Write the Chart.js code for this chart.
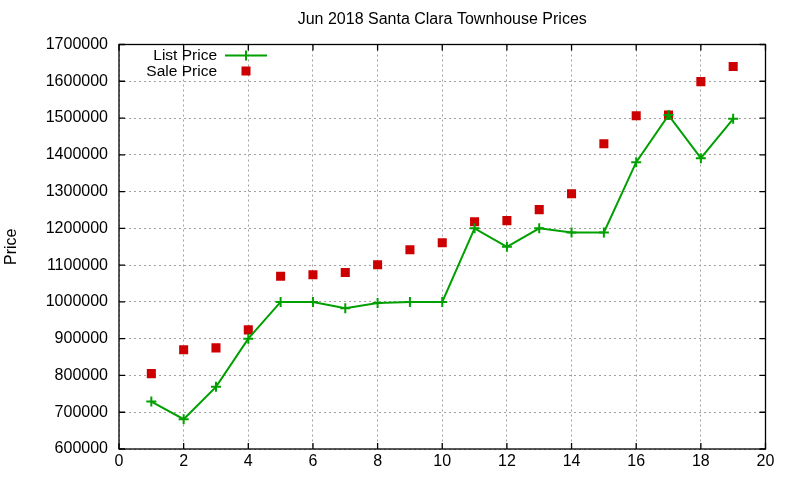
<!DOCTYPE html>
<html lang="en">
<head>
    <meta charset="UTF-8">
    <title>Jun 2018 Santa Clara Townhouse Prices</title>
    <script src="https://cdn.jsdelivr.net/npm/chart.js"></script>
    <style>
        html, body { margin: 0; padding: 0; background: #fff; }
        #chartContainer { width: 800px; height: 480px; }
    </style>
</head>
<body>

<div id="chartContainer">
    <canvas id="priceChart"></canvas>
</div>

<script type="text/javascript">
    // Chart data
    var chartTitle = 'Jun 2018 Santa Clara Townhouse Prices';
    var xValues = [1, 2, 3, 4, 5, 6, 7, 8, 9, 10, 11, 12, 13, 14, 15, 16, 17, 18, 19];
    var listPrice = [729000, 681000, 769000, 900000, 1000000, 1000000, 983000, 997000, 1000000, 1000000,
                     1200000, 1150000, 1200000, 1189000, 1189000, 1380000, 1508000, 1391000, 1498000];
    var salePrice = [805000, 870000, 875000, 924000, 1070000, 1074000, 1080000, 1101000, 1142000, 1161000,
                     1218000, 1221000, 1251000, 1294000, 1430000, 1506000, 1508000, 1599000, 1640000];

    var green = 'rgb(0,160,0)';
    var red = 'rgb(204,0,0)';
    var fontFamily = '"Liberation Sans", Arial, sans-serif';

    // gnuplot look: black frame with inward ticks, centred title, key at top left
    var gnuplotFrame = {
        id: 'gnuplotFrame',
        afterDraw: function(chart) {
            const ctx = chart.ctx;
            const a = chart.chartArea;
            const xs = chart.scales.x, ys = chart.scales.y;
            const tl = 6;
            ctx.save();
            ctx.strokeStyle = '#000';
            ctx.lineWidth = 1.3;
            ctx.strokeRect(a.left, a.top, a.right - a.left, a.bottom - a.top);
            ctx.beginPath();
            xs.ticks.forEach(t => {
                const px = xs.getPixelForValue(t.value);
                ctx.moveTo(px, a.bottom); ctx.lineTo(px, a.bottom - tl);
                ctx.moveTo(px, a.top); ctx.lineTo(px, a.top + tl);
            });
            ys.ticks.forEach(t => {
                const py = ys.getPixelForValue(t.value);
                ctx.moveTo(a.left, py); ctx.lineTo(a.left + tl, py);
                ctx.moveTo(a.right, py); ctx.lineTo(a.right - tl, py);
            });
            ctx.stroke();

            // title
            ctx.fillStyle = '#000';
            ctx.font = '16px ' + fontFamily;
            ctx.textAlign = 'center';
            ctx.textBaseline = 'middle';
            ctx.fillText(chartTitle, (a.left + a.right) / 2, 20);

            // key
            const ds = chart.data.datasets;
            ctx.font = '15.5px ' + fontFamily;
            ctx.textAlign = 'right';
            ctx.fillText(ds[0].label, a.left + 98, a.top + 11);
            ctx.fillText(ds[1].label, a.left + 98, a.top + 27);
            const sx = a.left + 106, ex = a.left + 148, mx = (sx + ex) / 2;
            let ky = a.top + 11;
            ctx.strokeStyle = green;
            ctx.lineWidth = 2;
            ctx.beginPath();
            ctx.moveTo(sx, ky); ctx.lineTo(ex, ky);
            ctx.moveTo(mx, ky - 5); ctx.lineTo(mx, ky + 5);
            ctx.stroke();
            ky = a.top + 26.5;
            ctx.fillStyle = red;
            ctx.fillRect(mx - 4.5, ky - 4.5, 9, 9);
            ctx.restore();
        }
    };

    const ctx = document.getElementById('priceChart').getContext('2d');
    new Chart(ctx, {
        type: 'line',
        data: {
            datasets: [{
                label: 'List Price',
                data: xValues.map((x, i) => ({ x: x, y: listPrice[i] })),
                borderColor: green,
                backgroundColor: green,
                borderWidth: 2,
                pointStyle: 'cross',
                pointRadius: 5,
                pointBorderWidth: 2,
                tension: 0
            }, {
                label: 'Sale Price',
                data: xValues.map((x, i) => ({ x: x, y: salePrice[i] })),
                showLine: false,
                borderColor: red,
                backgroundColor: red,
                pointStyle: 'rect',
                pointRadius: 6.4,
                pointBorderWidth: 0
            }]
        },
        options: {
            responsive: true,
            maintainAspectRatio: false,
            animation: false,
            layout: { padding: { top: 44.5, right: 34.5, left: 0, bottom: 0 } },
            plugins: {
                legend: { display: false },
                title: { display: false },
                tooltip: { enabled: false }
            },
            scales: {
                x: {
                    type: 'linear',
                    min: 0,
                    max: 20,
                    ticks: { stepSize: 2, color: '#000', padding: 3, font: { family: fontFamily, size: 16 } },
                    grid: { color: '#a0a0a0', lineWidth: 1, drawTicks: false },
                    border: { display: false, dash: [2, 3] },
                    afterFit: function(scale) { scale.height = 31; }
                },
                y: {
                    min: 600000,
                    max: 1700000,
                    ticks: {
                        stepSize: 100000,
                        color: '#000',
                        padding: 11,
                        font: { family: fontFamily, size: 16 },
                        callback: function(v) { return String(v); }
                    },
                    grid: { color: '#a0a0a0', lineWidth: 1, drawTicks: false },
                    border: { display: false, dash: [2, 3] },
                    title: {
                        display: true,
                        text: 'Price',
                        color: '#000',
                        font: { family: fontFamily, size: 16 },
                        padding: { top: 2, bottom: 0 }
                    },
                    afterFit: function(scale) { scale.width = 119; }
                }
            }
        },
        plugins: [gnuplotFrame]
    });
</script>

</body>
</html>
